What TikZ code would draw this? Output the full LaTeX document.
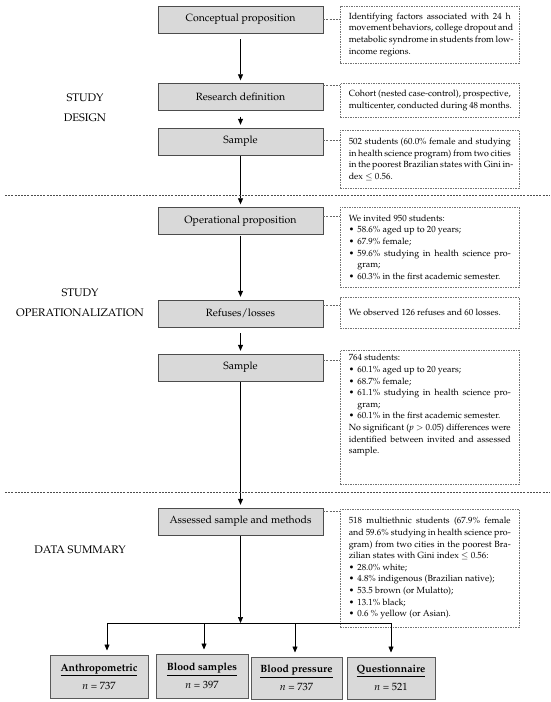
\documentclass[tikz,border=0pt]{standalone}
\usepackage[T1]{fontenc}
\usepackage{mathpazo}
\usetikzlibrary{arrows.meta,calc}
\newlength{\bulw}
\newcommand{\bsp}{\textbullet\hspace*{3.2pt}}
\newcommand{\jline}[1]{\hbox to\linewidth{#1}}
\newcommand{\lline}[1]{\hbox to\linewidth{#1\hfil}}
\newcommand{\bline}[1]{\hbox to\linewidth{\bsp #1}}
\newcommand{\blast}[1]{\hbox to\linewidth{\bsp #1\hfil}}
\newcommand{\iline}[1]{\settowidth{\bulw}{\bsp}\hbox to\linewidth{\hspace*{\bulw}#1\hfil}}
\newcommand{\rtext}[2]{\begin{minipage}[c][#1pt][c]{162pt}#2\end{minipage}}
\begin{document}
\begin{tikzpicture}[x=1pt,y=-1pt,
 mbox/.style={draw=black!70, fill=black!15, minimum width=165pt, minimum height=27pt, inner sep=0pt, font=\fontsize{10.5}{12}\selectfont},
 rbox/.style={draw=black!55, dash pattern=on 1.5pt off 1pt, line width=0.5pt, anchor=north west, minimum width=179pt, inner sep=0pt, font=\fontsize{8.9}{11.6}\selectfont},
 bbox/.style={draw=black!65, line width=1pt, fill=black!15, inner sep=0pt, align=center, font=\fontsize{10.5}{18}\selectfont},
 arr/.style={-{Triangle[width=5pt,length=6pt]}, line width=0.7pt},
 conn/.style={draw=black!60, dash pattern=on 2pt off 1.2pt, line width=0.5pt},
 sep/.style={draw=black!70, dash pattern=on 2pt off 1.2pt, line width=0.6pt},
 lab/.style={font=\fontsize{11}{20}\selectfont, align=center}
]
\useasboundingbox (0,0) rectangle (550,702);

% main boxes
\node[mbox] (cp) at (240.5,19.5) {Conceptual proposition};
\node[mbox] (rd) at (240.5,97) {Research definition};
\node[mbox] (sa) at (240.5,141.5) {Sample};
\node[mbox] (op) at (240.5,221) {Operational proposition};
\node[mbox] (rl) at (240.5,313.5) {Refuses/losses};
\node[mbox] (sb) at (240.5,367.5) {Sample};
\node[mbox] (as) at (240.5,521.5) {Assessed sample and methods};

% right boxes
\node[rbox] (r1) at (340,6) {\rtext{57}{%
\jline{Identifying factors associated with 24 h}
\jline{movement behaviors, college dropout and}
\jline{metabolic syndrome in students from low-}
\lline{income regions.}}};
\node[rbox] (r2) at (340,83) {\rtext{34}{%
\jline{Cohort (nested case-control), prospective,}
\lline{multicenter, conducted during 48 months.}}};
\node[rbox] (r3) at (340,130) {\rtext{58}{%
\jline{502 students (60.0\% female and studying}
\jline{in health science program) from two cities}
\jline{in the poorest Brazilian states with Gini in-}
\lline{dex $\leq$ 0.56.}}};
\node[rbox] (r4) at (340,207) {\rtext{80}{%
\lline{We invited 950 students:}
\blast{58.6\% aged up to 20 years;}
\blast{67.9\% female;}
\bline{59.6\% studying in health science pro-}
\iline{gram;}
\blast{60.3\% in the first academic semester.}}};
\node[rbox] (r5) at (340,297) {\rtext{31}{%
\lline{We observed 126 refuses and 60 losses.}}};
\node[rbox] (r6) at (340,350) {\rtext{134}{%
\lline{764 students:}
\blast{60.1\% aged up to 20 years;}
\blast{68.7\% female;}
\bline{61.1\% studying in health science pro-}
\iline{gram;}
\blast{60.1\% in the first academic semester.}
\jline{No significant (\textit{p} $>$ 0.05) differences were}
\jline{identified between invited and assessed}
\lline{sample.}
\vspace*{24pt}}};
\node[rbox] (r7) at (340,509) {\rtext{118}{%
\jline{518 multiethnic students (67.9\% female}
\jline{and 59.6\% studying in health science pro-}
\jline{gram) from two cities in the poorest Bra-}
\lline{zilian states with Gini index $\leq$ 0.56:}
\blast{28.0\% white;}
\blast{4.8\% indigenous (Brazilian native);}
\blast{53.5 brown (or Mulatto);}
\blast{13.1\% black;}
\blast{0.6 \% yellow (or Asian).}}};

% dashed connectors
\draw[conn] (cp.east) -- (cp.east -| r1.west);
\draw[conn] ([yshift=-2pt]rd.north east) -- ([yshift=-2pt]rd.north east -| r2.west);
\draw[conn] ([yshift=-12pt]sa.north east) -- ([yshift=-12pt]sa.north east -| r3.west);
\draw[conn] ([yshift=-9pt]op.north east) -- ([yshift=-9pt]op.north east -| r4.west);
\draw[conn] ([yshift=-5pt]rl.north east) -- ([yshift=-5pt]rl.north east -| r5.west);
\draw[conn] ([yshift=-6pt]sb.north east) -- ([yshift=-6pt]sb.north east -| r6.west);
\draw[conn] ([yshift=-3pt]as.north east) -- ([yshift=-3pt]as.north east -| r7.west);

% vertical arrows
\draw[arr, shorten <=6pt, shorten >=3pt] (cp.south) -- (rd.north);
\draw[arr, shorten <=6pt, shorten >=3pt] (rd.south) -- (sa.north);
\draw[arr, shorten <=1pt, shorten >=3pt] (sa.south) -- (op.north);
\draw[arr, shorten <=1pt, shorten >=3pt] (op.south) -- (rl.north);
\draw[arr, shorten <=6pt, shorten >=3pt] (rl.south) -- (sb.north);
\draw[arr, shorten <=1pt, shorten >=3pt] (sb.south) -- (as.north);

% separators
\coordinate (s1a) at (5,195); \coordinate (s1b) at (550,195);
\coordinate (s2a) at (5,492); \coordinate (s2b) at (550,492);
\draw[sep] (s1a) -- (s1b);
\draw[sep] (s2a) -- (s2b);

% labels
\node[lab] (l1) at (85,108) {STUDY\\DESIGN};
\node[lab] (l2) at (80,303) {STUDY\\OPERATIONALIZATION};
\node[lab] (l3) at (80,550) {DATA SUMMARY};

% bottom boxes
\node[bbox, minimum width=98pt, minimum height=43pt] (b1) at (99,676.5) {\underline{\textbf{Anthropometric}}\\\textit{n} = 737};
\node[bbox, minimum width=92pt, minimum height=44pt] (b2) at (202,676) {\underline{\textbf{Blood samples}}\\\textit{n} = 397};
\node[bbox, minimum width=91pt, minimum height=42pt] (b3) at (296.5,678) {\underline{\textbf{Blood pressure}}\\\textit{n} = 737};
\node[bbox, minimum width=88pt, minimum height=42pt] (b4) at (391,678) {\underline{\textbf{Questionnaire}}\\\textit{n} = 521};

% branching
\coordinate (j) at (240.5,623);
\coordinate (t1) at (107,623);
\coordinate (t2) at (204,623);
\coordinate (t3) at (295,623);
\coordinate (t4) at (391,623);
\draw[arr, shorten <=1pt] (as.south) -- (j);
\draw[line width=0.7pt] (t1) -- (t4);
\draw[arr, shorten >=4pt] (t1) -- (t1 |- b1.north);
\draw[arr, shorten >=4pt] (t2) -- (t2 |- b2.north);
\draw[arr, shorten >=4pt] (t3) -- (t3 |- b3.north);
\draw[arr, shorten >=4pt] (t4) -- (t4 |- b4.north);
\end{tikzpicture}
\end{document}
